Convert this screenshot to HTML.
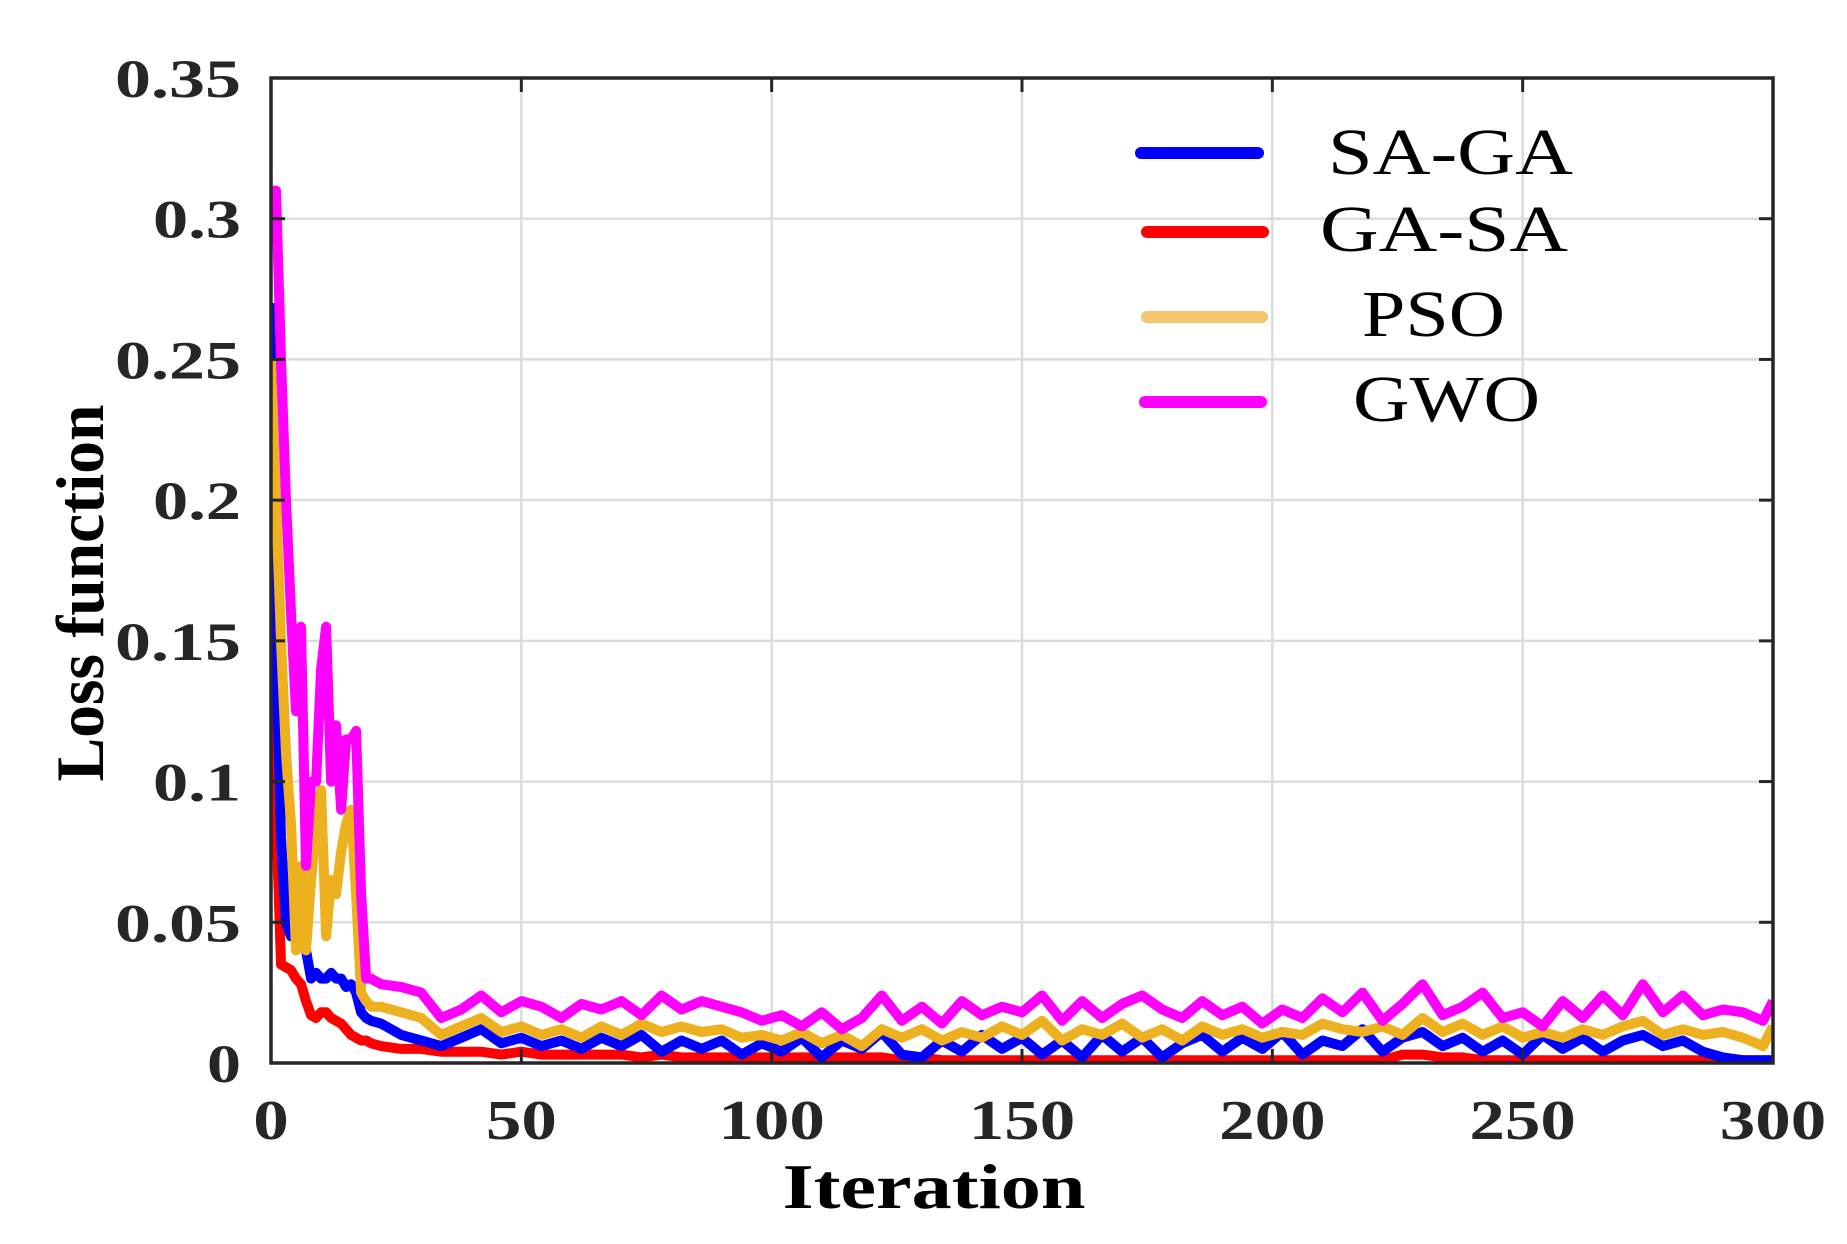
<!DOCTYPE html>
<html><head><meta charset="utf-8"><style>
html,body{margin:0;padding:0;background:#fff;}
svg{display:block;}
text{font-family:"Liberation Serif","Times New Roman",Times,serif;}
</style></head><body>
<svg id="chart" width="1847" height="1244" viewBox="0 0 1847 1244" xmlns="http://www.w3.org/2000/svg"></svg>
<script>
const xTicks=[0,50,100,150,200,250,300];
const yTicks=[0,0.05,0.1,0.15,0.2,0.25,0.3,0.35];
const yTickLabels=["0","0.05","0.1","0.15","0.2","0.25","0.3","0.35"];
const seriesNames=["SA-GA","GA-SA","PSO","GWO"];
const earlyIter=[0,1,2,3,4,5,6,7,8,9,10,11,12,13,14,15,16,17,18,19,20];
const gwoEarly=[0.31,0.31,0.25,0.2,0.16,0.125,0.155,0.07,0.1,0.1,0.14,0.155,0.1,0.12,0.09,0.115,0.115,0.118,0.06,0.03,0.03];
const psoEarly=[0.25,0.2,0.15,0.11,0.085,0.04,0.07,0.04,0.065,0.085,0.097,0.045,0.065,0.06,0.075,0.085,0.09,0.06,0.025,0.022,0.02];
const sagaEarly=[0.27,0.15,0.08,0.05,0.045,0.05,0.045,0.04,0.03,0.032,0.03,0.03,0.032,0.03,0.03,0.027,0.028,0.025,0.018,0.016,0.015];
const gasaEarly=[0.22,0.09,0.035,0.034,0.033,0.03,0.028,0.022,0.017,0.016,0.018,0.018,0.016,0.015,0.014,0.012,0.01,0.009,0.008,0.008,0.007];
const gwoLate=[0.028,0.027,0.025,0.016,0.019,0.024,0.018,0.022,0.020,0.016,0.021,0.019,0.022,0.017,0.024,0.019,0.022,0.020,0.018,0.015,0.017,0.013,0.018,0.012,0.016,0.024,0.015,0.020,0.014,0.022,0.017,0.020,0.018,0.024,0.015,0.022,0.016,0.021,0.024,0.019,0.016,0.022,0.017,0.020,0.014,0.019,0.016,0.023,0.018,0.025,0.015,0.021,0.028,0.017,0.020,0.025,0.016,0.018,0.013,0.022,0.016,0.024,0.017,0.028,0.018,0.024,0.017,0.019,0.018,0.015,0.022];
const psoLate=[0.020,0.018,0.016,0.010,0.013,0.016,0.011,0.013,0.010,0.012,0.009,0.013,0.010,0.014,0.011,0.013,0.011,0.012,0.009,0.010,0.008,0.011,0.007,0.010,0.006,0.012,0.009,0.012,0.008,0.011,0.009,0.013,0.010,0.015,0.008,0.012,0.010,0.014,0.009,0.012,0.008,0.013,0.010,0.012,0.009,0.011,0.010,0.014,0.012,0.011,0.013,0.010,0.016,0.011,0.014,0.010,0.013,0.009,0.011,0.009,0.012,0.010,0.013,0.015,0.010,0.012,0.010,0.011,0.009,0.006,0.013];
const sagaLate=[0.014,0.010,0.008,0.006,0.009,0.012,0.007,0.009,0.006,0.008,0.005,0.009,0.006,0.010,0.004,0.008,0.005,0.008,0.003,0.007,0.004,0.009,0.002,0.008,0.005,0.011,0.003,0.002,0.008,0.004,0.010,0.005,0.009,0.003,0.008,0.002,0.010,0.004,0.009,0.002,0.007,0.010,0.004,0.009,0.005,0.011,0.003,0.008,0.006,0.012,0.004,0.009,0.011,0.006,0.009,0.004,0.008,0.003,0.010,0.005,0.009,0.004,0.008,0.010,0.006,0.008,0.004,0.002,0.001,0.001,0.001];
const gasaLate=[0.006,0.005,0.005,0.004,0.004,0.004,0.003,0.004,0.003,0.003,0.003,0.003,0.003,0.002,0.003,0.002,0.002,0.002,0.002,0.002,0.002,0.002,0.002,0.002,0.002,0.002,0.001,0.002,0.001,0.001,0.001,0.001,0.001,0.001,0.001,0.001,0.001,0.001,0.001,0.001,0.001,0.001,0.001,0.001,0.001,0.001,0.001,0.001,0.001,0.001,0.001,0.003,0.003,0.002,0.002,0.001,0.001,0.001,0.001,0.001,0.001,0.001,0.001,0.001,0.001,0.001,0.001,0.001,0.001,0.001,0.001];

const NS="http://www.w3.org/2000/svg";
const svg=document.getElementById('chart');
const L=271,R=1773,T=78,B=1063;
const xS=v=>L+(v-0)/(300-0)*(R-L);
const yS=v=>B-(v-0)/(0.35-0)*(B-T);
const lateIter=[];
for(let i=22;i<=298;i+=4)lateIter.push(i);
lateIter.push(300);
const iters=earlyIter.concat(lateIter);
function mk(tag,attrs){const e=document.createElementNS(NS,tag);for(const k in attrs)e.setAttribute(k,attrs[k]);svg.appendChild(e);return e;}
const defs=mk('defs',{});
const cp=document.createElementNS(NS,'clipPath');cp.setAttribute('id','pc');
const cr=document.createElementNS(NS,'rect');cr.setAttribute('x',L);cr.setAttribute('y',T);cr.setAttribute('width',R-L);cr.setAttribute('height',B-T);
cp.appendChild(cr);defs.appendChild(cp);

xTicks.forEach(t=>{if(t===0||t===300)return;
 const g=mk('line',{x1:xS(t),x2:xS(t),y1:T,y2:B,stroke:'#dcdcdc','stroke-width':2.5});
 
 });
yTicks.forEach(t=>{if(t===0||t===0.35)return;
 const g=mk('line',{x1:L,x2:R,y1:yS(t),y2:yS(t),stroke:'#dcdcdc','stroke-width':2.5});
 
 });

const series=[
 {name:'GA-SA',color:'#ff0000',vals:gasaEarly.concat(gasaLate)},
 {name:'SA-GA',color:'#0000ff',vals:sagaEarly.concat(sagaLate)},
 {name:'PSO',color:'#EDB120',vals:psoEarly.concat(psoLate)},
 {name:'GWO',color:'#ff00ff',vals:gwoEarly.concat(gwoLate)}
];
series.forEach(s=>{
 const d=s.vals.map((v,i)=>(i?'L':'M')+xS(iters[i]).toFixed(1)+' '+yS(v).toFixed(1)).join(' ');
 const p=mk('path',{d:d,fill:'none',stroke:s.color,'stroke-width':10,'stroke-linejoin':'round','clip-path':'url(#pc)'});
 
 
});

const box=mk('rect',{x:L,y:T,width:R-L,height:B-T,fill:'none',stroke:'#262626','stroke-width':3.5});


xTicks.forEach(t=>{
 mk('line',{x1:xS(t),x2:xS(t),y1:B,y2:B-14,stroke:'#262626','stroke-width':3});
 mk('line',{x1:xS(t),x2:xS(t),y1:T,y2:T+14,stroke:'#262626','stroke-width':3});
 const tx=mk('text',{x:xS(t),y:1139,'text-anchor':'middle','font-weight':'bold','font-size':56,fill:'#262626',textLength:String(t).length*35.5,lengthAdjust:'spacingAndGlyphs'});
 tx.textContent=t;
 
 
});
yTicks.forEach((t,i)=>{
 mk('line',{x1:L,x2:L+14,y1:yS(t),y2:yS(t),stroke:'#262626','stroke-width':3});
 mk('line',{x1:R,x2:R-14,y1:yS(t),y2:yS(t),stroke:'#262626','stroke-width':3});
 const lab=yTickLabels[i];
 const w=lab.length===1?34:(lab.length===3?88:126);
 const tx=mk('text',{x:241,y:yS(t)+19,'text-anchor':'end','font-weight':'bold','font-size':54,fill:'#262626',textLength:w,lengthAdjust:'spacingAndGlyphs'});
 tx.textContent=lab;
 
 
});

const xt=mk('text',{x:934,y:1208,'text-anchor':'middle','font-weight':'bold','font-size':64,fill:'#000',textLength:303,lengthAdjust:'spacingAndGlyphs'});
xt.textContent='Iteration';


const yt=mk('text',{x:0,y:0,'text-anchor':'middle','font-weight':'bold','font-size':68,fill:'#000',textLength:377,lengthAdjust:'spacingAndGlyphs',transform:'translate(103,593) rotate(-90)'});
yt.textContent='Loss function';



const legY=[153,232,317,402];
const legBase=[174,251,336,421];
const legColors=['#0000ff','#ff0000','#f6c570','#ff00ff'];
const legX=[[1135,1264],[1141,1269],[1141,1268],[1139,1267]];
const legText=[[1328,245],[1320,248],[1362,143],[1353,187]];
seriesNames.forEach((n,i)=>{
 const ln=mk('line',{x1:legX[i][0]+6,x2:legX[i][1]-6,y1:legY[i],y2:legY[i],stroke:legColors[i],'stroke-width':12,'stroke-linecap':'round'});
 
 
 const tx=mk('text',{x:legText[i][0],y:legBase[i],'font-size':66,fill:'#000',textLength:legText[i][1],lengthAdjust:'spacingAndGlyphs'});
 tx.textContent=n;
 
 
});
</script>
</body></html>
